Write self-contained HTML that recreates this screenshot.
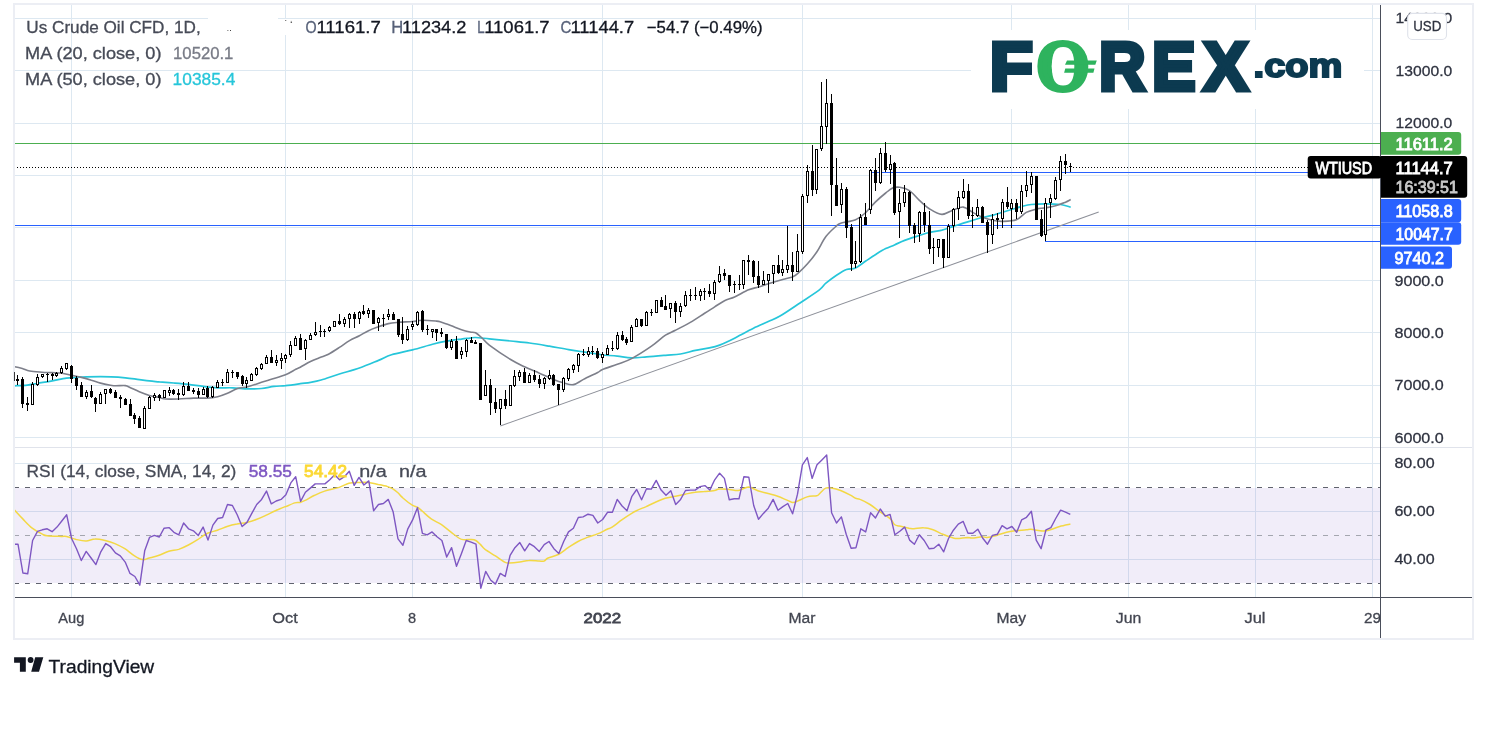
<!DOCTYPE html>
<html lang="en"><head><meta charset="utf-8"><title>Us Crude Oil CFD chart</title>
<style>html,body{margin:0;padding:0;background:#fff}body{width:1489px;height:729px;overflow:hidden}svg{display:block}</style>
</head><body>
<svg width="1489" height="729" viewBox="0 0 1489 729" font-family="'Liberation Sans', sans-serif">
<rect width="1489" height="729" fill="#fff"/>
<defs><clipPath id="cp"><rect x="14" y="5" width="1366" height="592"/></clipPath></defs>
<g shape-rendering="crispEdges">
<path d="M15 18.5H1380M15 70.5H1380M15 123.5H1380M15 175.5H1380M15 227.5H1380M15 280.5H1380M15 332.5H1380M15 385.5H1380M15 437.5H1380M15 463.5H1380M15 511.5H1380M15 559.5H1380M71.5 5V597M285.5 5V597M412.5 5V597M602.5 5V597M802.5 5V597M1011.5 5V597M1128.5 5V597M1255.5 5V597M1372.5 5V597" stroke="#dde8f1" stroke-width="1" fill="none"/>
<rect x="15" y="488" width="1365" height="95" fill="#7e57c2" fill-opacity="0.105"/>
<path d="M15 447.5H1472" stroke="#e0e3eb" stroke-width="1"/>
<path d="M208 10h70v9h22v16h-92z" fill="#fff"/>
<rect x="971" y="30" width="393" height="79" fill="#fff"/>
<path d="M15 487.5H1380M15 583.5H1380" stroke="#60636e" stroke-width="1" stroke-dasharray="5 6" stroke-dashoffset="1" fill="none"/>
<path d="M15 535.5H1380" stroke="#a4a6af" stroke-width="1" stroke-dasharray="5 6" stroke-dashoffset="1" fill="none"/>
</g>
<path d="M230 30h1v1h-1zM227.5 30.1h.8v.8h-.8z" fill="#444"/><path d="M291 20.5l1.2 2.6h-1.6zM285 20.2h1.3v.7h-1.3z" fill="#555"/>
<g clip-path="url(#cp)">
<g shape-rendering="crispEdges">
<path d="M15 143.5H1380" stroke="#4caf50" stroke-width="1"/>
<path d="M15 225.5H1380M872 172.5H1380M1045 241.5H1380" stroke="#2962ff" stroke-width="1" fill="none"/>
<path d="M15 167.5H1380" stroke="#000" stroke-width="1" stroke-dasharray="1 2" stroke-dashoffset="1" fill="none"/>
</g>
<path d="M500.3 426L1098.7 212.1" stroke="#8d9099" stroke-width="1.05" fill="none"/>
<path d="M13.5 385.9C13.7 385.9 12.4 385.9 14.7 385.8C17.0 385.7 23.5 385.6 27.3 385.2C31.1 384.8 33.2 384.0 37.4 383.3C41.5 382.6 47.4 381.8 52.2 380.9C57.0 380.0 62.4 378.7 66.4 378.1C70.4 377.5 73.1 377.6 76.4 377.4C79.7 377.2 80.6 376.9 86.4 376.8C92.2 376.7 104.7 376.6 111.2 376.8C117.7 377.0 120.7 377.3 125.4 377.8C130.1 378.3 135.3 379.1 139.3 379.6C143.3 380.1 146.1 380.5 149.4 380.9C152.8 381.3 155.4 381.5 159.4 381.9C163.4 382.2 168.9 382.6 173.7 383.0C178.5 383.4 183.5 383.8 188.4 384.4C193.3 385.0 198.4 385.8 203.3 386.4C208.2 387.0 212.7 387.6 217.6 387.8C222.5 388.0 227.7 387.6 232.7 387.8C237.7 388.0 243.0 388.8 247.8 388.9C252.6 389.0 257.1 388.9 261.5 388.5C265.9 388.1 269.9 386.9 273.9 386.4C277.9 385.9 281.1 386.1 285.5 385.7C289.9 385.2 296.1 384.3 300.3 383.7C304.5 383.1 307.0 382.9 310.5 382.3C314.0 381.7 316.3 381.4 321.1 380.0C325.9 378.6 333.0 376.0 339.4 374.0C345.8 372.0 352.9 370.3 359.4 368.0C365.9 365.7 373.1 362.6 378.5 360.4C383.9 358.2 385.8 356.6 391.5 354.8C397.2 353.1 405.7 351.6 412.5 349.9C419.3 348.1 426.9 345.8 432.5 344.3C438.1 342.9 441.6 342.1 446.4 341.2C451.2 340.3 457.6 339.6 461.5 339.1C465.4 338.6 467.6 338.4 470.0 338.1C472.4 337.8 472.4 337.4 475.6 337.5C478.8 337.6 483.5 338.3 489.3 338.9C495.1 339.5 503.9 340.3 510.6 341.0C517.3 341.7 523.0 342.1 529.5 343.0C536.0 343.9 542.9 345.1 549.4 346.2C555.9 347.3 562.9 348.7 568.6 349.6C574.3 350.6 578.6 351.2 583.5 351.9C588.4 352.6 594.5 353.5 597.7 354.0C600.9 354.5 599.2 354.6 602.5 355.0C605.8 355.4 612.4 355.6 617.3 356.1C622.1 356.6 626.7 357.7 631.6 357.8C636.5 357.9 641.0 357.3 646.6 356.9C652.2 356.5 659.9 355.8 665.5 355.3C671.1 354.8 675.5 354.8 680.5 354.0C685.5 353.2 690.6 351.4 695.4 350.4C700.2 349.4 705.4 348.8 709.4 347.9C713.4 347.0 716.2 346.3 719.6 345.1C723.0 343.9 726.2 342.4 729.5 340.8C732.8 339.2 735.4 337.7 739.4 335.6C743.4 333.5 748.7 330.5 753.5 328.2C758.3 325.9 763.9 323.6 768.3 321.6C772.7 319.6 774.7 319.2 780.0 316.1C785.3 313.0 793.4 307.4 800.0 303.0C806.6 298.6 815.1 293.2 819.4 289.9C823.7 286.6 823.0 285.6 825.9 283.2C828.8 280.8 833.1 277.6 836.5 275.3C839.9 273.0 843.3 270.7 846.5 269.5C849.7 268.3 852.5 269.3 855.6 267.9C858.8 266.5 862.1 263.5 865.4 261.3C868.7 259.1 871.9 256.8 875.3 254.7C878.7 252.6 882.5 250.2 885.7 248.6C888.9 247.0 891.4 246.3 894.5 244.9C897.6 243.5 900.5 242.0 904.6 240.4C908.8 238.8 915.3 236.8 919.4 235.5C923.5 234.2 925.5 233.4 929.3 232.5C933.0 231.6 938.7 230.8 941.9 230.1C945.1 229.3 945.8 228.9 948.5 228.0C951.2 227.1 954.4 226.0 958.4 224.7C962.4 223.4 968.8 221.5 972.8 220.3C976.8 219.1 979.5 218.1 982.7 217.3C986.0 216.5 988.2 216.5 992.3 215.4C996.4 214.3 1002.5 212.2 1007.4 210.7C1012.2 209.2 1017.4 207.6 1021.4 206.6C1025.4 205.6 1027.2 205.0 1031.2 204.5C1035.2 204.0 1040.7 203.8 1045.6 203.8C1050.5 203.8 1056.3 203.9 1060.5 204.5C1064.7 205.1 1069.0 206.7 1070.7 207.1" stroke="#26c6da" stroke-width="1.7" fill="none" stroke-linejoin="round"/>
<path d="M13.5 366.5C13.7 366.5 13.2 366.4 14.7 366.7C16.2 367.0 19.8 367.8 22.3 368.5C24.8 369.2 26.5 370.4 29.8 371.0C33.1 371.6 38.4 371.9 42.1 372.2C45.8 372.5 48.7 372.4 52.0 372.6C55.3 372.8 58.7 372.8 61.9 373.2C65.1 373.6 68.2 374.6 71.4 375.3C74.7 376.0 78.1 376.6 81.4 377.4C84.7 378.2 88.2 379.2 91.4 380.2C94.6 381.1 97.3 382.3 100.5 383.1C103.7 383.9 108.0 384.8 110.5 385.2C113.0 385.6 112.9 385.7 115.4 385.8C117.9 385.9 122.9 385.3 125.4 385.6C127.9 385.9 128.1 386.7 130.4 387.7C132.7 388.7 136.1 390.4 139.3 391.7C142.5 393.0 146.1 394.4 149.4 395.4C152.8 396.4 156.7 396.9 159.4 397.5C162.1 398.1 162.3 398.8 165.5 399.0C168.7 399.2 173.8 399.1 178.5 399.0C183.2 398.9 188.9 398.2 193.6 398.1C198.3 398.0 202.6 398.3 206.6 398.1C210.6 397.9 214.1 397.5 217.6 396.7C221.1 395.9 224.2 394.7 227.5 393.3C230.8 391.9 234.1 389.6 237.5 388.5C240.9 387.4 243.8 387.7 247.8 386.7C251.8 385.7 257.1 383.7 261.5 382.3C265.9 380.9 269.9 379.8 273.9 378.5C277.9 377.2 281.9 376.3 285.5 374.8C289.1 373.3 293.3 370.6 295.8 369.3C298.3 368.0 297.9 368.5 300.3 367.2C302.8 365.9 307.2 363.1 310.5 361.5C313.8 359.9 317.0 358.7 320.0 357.5C323.0 356.3 325.3 355.9 328.5 354.2C331.7 352.5 335.9 349.7 339.4 347.4C342.9 345.1 346.2 342.6 349.5 340.6C352.8 338.7 356.2 337.4 359.4 335.7C362.6 334.0 365.3 332.2 368.5 330.7C371.7 329.2 375.2 328.0 378.5 326.8C381.8 325.6 385.1 324.4 388.4 323.6C391.7 322.9 394.5 322.7 398.5 322.3C402.5 321.9 408.5 321.9 412.5 321.5C416.5 321.1 418.3 320.3 422.3 320.2C426.3 320.1 433.3 320.8 436.5 321.1C439.7 321.5 439.0 321.5 441.5 322.3C444.0 323.1 448.1 324.6 451.4 325.8C454.7 327.1 458.4 328.8 461.5 329.8C464.6 330.8 467.6 331.5 470.0 332.0C472.4 332.5 473.6 331.8 475.6 332.8C477.6 333.8 479.7 335.9 482.0 338.0C484.3 340.1 484.5 341.5 489.3 345.1C494.1 348.7 504.7 355.9 510.6 359.5C516.5 363.1 519.7 364.5 524.5 366.8C529.3 369.1 534.6 371.1 539.4 373.2C544.2 375.3 549.5 377.8 553.5 379.4C557.5 381.0 560.1 381.9 563.4 382.8C566.7 383.7 570.0 385.2 573.4 384.6C576.8 384.0 579.5 381.4 583.5 379.4C587.5 377.4 594.5 374.1 597.7 372.5C600.9 370.9 599.2 370.9 602.5 369.5C605.8 368.1 612.4 366.1 617.3 364.3C622.1 362.5 625.9 361.6 631.6 358.6C637.3 355.6 645.9 350.1 651.5 346.2C657.1 342.3 661.5 337.8 665.5 335.1C669.5 332.5 671.3 332.4 675.4 330.3C679.5 328.2 685.4 325.2 690.3 322.4C695.2 319.6 700.5 315.9 704.6 313.3C708.7 310.7 711.4 308.9 714.7 306.8C718.0 304.7 721.2 302.4 724.5 300.7C727.8 299.0 730.6 298.7 734.6 296.9C738.6 295.1 744.6 291.4 748.6 289.8C752.6 288.2 755.1 288.0 758.4 287.0C761.7 286.0 764.2 285.0 768.3 283.7C772.3 282.4 778.7 280.5 782.7 279.4C786.7 278.3 790.0 277.8 792.5 276.9C795.0 275.9 795.1 275.9 797.6 273.7C800.1 271.5 804.3 267.4 807.5 263.8C810.7 260.2 813.5 256.8 816.6 252.3C819.7 247.8 822.6 241.0 825.9 236.6C829.2 232.2 833.9 228.2 836.5 225.9C839.1 223.6 838.2 224.0 841.4 223.0C844.6 222.0 851.6 221.4 855.6 219.7C859.6 218.0 862.1 215.7 865.4 212.8C868.7 209.9 871.9 205.4 875.3 202.1C878.7 198.8 882.8 195.3 885.7 193.0C888.6 190.7 890.3 189.0 892.6 188.1C894.9 187.2 896.8 186.9 899.6 187.3C902.4 187.7 906.2 188.4 909.5 190.6C912.8 192.8 916.1 197.4 919.4 200.4C922.7 203.4 925.5 206.4 929.3 208.7C933.0 211.0 937.9 214.2 941.9 214.4C945.9 214.6 949.8 211.1 953.4 209.9C957.0 208.7 960.1 206.7 963.3 207.1C966.5 207.5 969.6 210.7 972.8 212.4C976.0 214.1 979.5 216.0 982.7 217.3C986.0 218.6 989.0 219.6 992.3 220.3C995.6 221.0 998.5 221.5 1002.5 221.4C1006.5 221.3 1012.4 221.3 1016.4 219.8C1020.4 218.3 1022.9 214.2 1026.3 212.4C1029.6 210.6 1033.3 209.9 1036.5 209.1C1039.7 208.3 1042.4 208.4 1045.6 207.8C1048.8 207.2 1052.3 206.7 1055.6 205.8C1058.9 204.9 1063.0 203.2 1065.5 202.2C1068.0 201.2 1069.8 200.0 1070.7 199.6" stroke="#7d7f8a" stroke-width="1.6" fill="none" stroke-linejoin="round"/>
<g shape-rendering="crispEdges">
<path d="M17 375h1v10h-1zM22 377h1v31h-1zM27 397h1v14h-1zM32 382h1v23h-1zM37 374h1v12h-1zM42 374h1v4h-1zM47 373h1v9h-1zM52 373h1v7h-1zM56 372h1v5h-1zM61 366h1v8h-1zM66 363h1v7h-1zM71 365h1v18h-1zM76 376h1v14h-1zM81 382h1v15h-1zM86 390h1v9h-1zM91 385h1v13h-1zM95 397h1v15h-1zM100 392h1v12h-1zM105 389h1v15h-1zM110 388h1v6h-1zM115 390h1v8h-1zM120 395h1v13h-1zM125 398h1v7h-1zM130 399h1v17h-1zM134 413h1v11h-1zM139 416h1v12h-1zM144 406h1v23h-1zM149 396h1v13h-1zM154 393h1v8h-1zM159 394h1v7h-1zM164 390h1v8h-1zM169 387h1v9h-1zM173 389h1v6h-1zM178 389h1v11h-1zM183 382h1v14h-1zM188 382h1v9h-1zM193 388h1v6h-1zM198 388h1v10h-1zM203 387h1v8h-1zM207 386h1v12h-1zM212 386h1v12h-1zM217 380h1v8h-1zM222 379h1v7h-1zM227 369h1v14h-1zM232 370h1v8h-1zM237 372h1v7h-1zM242 375h1v11h-1zM246 377h1v11h-1zM251 373h1v8h-1zM256 367h1v9h-1zM261 363h1v7h-1zM266 355h1v9h-1zM271 350h1v13h-1zM276 355h1v11h-1zM281 353h1v16h-1zM285 354h1v9h-1zM290 341h1v16h-1zM295 336h1v10h-1zM300 334h1v16h-1zM305 339h1v21h-1zM310 333h1v7h-1zM315 322h1v14h-1zM320 325h1v12h-1zM324 329h1v8h-1zM329 326h1v6h-1zM334 321h1v6h-1zM339 314h1v11h-1zM344 317h1v10h-1zM349 313h1v15h-1zM354 312h1v16h-1zM359 311h1v13h-1zM363 305h1v10h-1zM368 308h1v10h-1zM373 310h1v14h-1zM378 317h1v14h-1zM383 314h1v13h-1zM388 309h1v11h-1zM393 312h1v8h-1zM398 319h1v18h-1zM402 317h1v27h-1zM407 326h1v15h-1zM412 321h1v9h-1zM417 311h1v15h-1zM422 310h1v22h-1zM427 325h1v10h-1zM432 329h1v9h-1zM436 329h1v12h-1zM441 328h1v9h-1zM446 334h1v15h-1zM451 339h1v11h-1zM456 336h1v23h-1zM461 347h1v12h-1zM466 339h1v18h-1zM471 337h1v6h-1zM475 340h1v4h-1zM480 343h1v57h-1zM485 370h1v26h-1zM490 379h1v36h-1zM495 388h1v25h-1zM500 399h1v26h-1zM505 390h1v19h-1zM510 385h1v21h-1zM514 370h1v17h-1zM519 370h1v11h-1zM524 368h1v15h-1zM529 373h1v10h-1zM534 370h1v12h-1zM539 375h1v13h-1zM544 377h1v12h-1zM549 370h1v10h-1zM553 374h1v12h-1zM558 384h1v21h-1zM563 377h1v15h-1zM568 368h1v13h-1zM573 364h1v9h-1zM578 353h1v19h-1zM583 349h1v7h-1zM588 347h1v10h-1zM592 346h1v9h-1zM597 348h1v11h-1zM602 352h1v11h-1zM607 345h1v10h-1zM612 341h1v10h-1zM617 332h1v18h-1zM622 331h1v10h-1zM626 337h1v8h-1zM631 325h1v17h-1zM636 318h1v9h-1zM641 319h1v8h-1zM646 311h1v15h-1zM651 309h1v7h-1zM656 300h1v13h-1zM661 297h1v10h-1zM665 295h1v15h-1zM670 303h1v15h-1zM675 301h1v22h-1zM680 303h1v14h-1zM685 291h1v16h-1zM690 289h1v12h-1zM695 287h1v13h-1zM700 289h1v12h-1zM704 288h1v12h-1zM709 284h1v13h-1zM714 280h1v20h-1zM719 266h1v17h-1zM724 269h1v11h-1zM729 275h1v17h-1zM734 281h1v12h-1zM739 275h1v15h-1zM743 260h1v29h-1zM748 255h1v20h-1zM753 260h1v23h-1zM758 261h1v27h-1zM763 271h1v14h-1zM768 274h1v19h-1zM773 265h1v19h-1zM778 255h1v19h-1zM782 260h1v16h-1zM787 226h1v47h-1zM792 252h1v29h-1zM797 234h1v38h-1zM802 194h1v60h-1zM807 165h1v38h-1zM812 145h1v51h-1zM816 149h1v45h-1zM821 82h1v69h-1zM826 79h1v65h-1zM831 94h1v122h-1zM836 158h1v48h-1zM841 183h1v30h-1zM846 187h1v51h-1zM851 224h1v47h-1zM855 241h1v27h-1zM860 214h1v49h-1zM865 203h1v22h-1zM870 169h1v45h-1zM875 158h1v33h-1zM880 148h1v36h-1zM885 142h1v30h-1zM890 155h1v29h-1zM894 162h1v53h-1zM899 189h1v49h-1zM904 185h1v22h-1zM909 191h1v42h-1zM914 223h1v20h-1zM919 211h1v31h-1zM924 203h1v29h-1zM929 211h1v43h-1zM933 238h1v26h-1zM938 239h1v18h-1zM943 239h1v29h-1zM948 224h1v34h-1zM953 208h1v24h-1zM958 191h1v29h-1zM963 179h1v20h-1zM968 184h1v35h-1zM972 207h1v21h-1zM977 199h1v18h-1zM982 206h1v17h-1zM987 220h1v33h-1zM992 214h1v30h-1zM997 213h1v16h-1zM1002 199h1v29h-1zM1007 187h1v22h-1zM1011 199h1v29h-1zM1016 199h1v20h-1zM1021 185h1v29h-1zM1026 171h1v26h-1zM1031 172h1v21h-1zM1036 176h1v44h-1zM1041 210h1v27h-1zM1045 198h1v43h-1zM1050 194h1v24h-1zM1055 177h1v23h-1zM1060 156h1v35h-1zM1065 154h1v20h-1zM1070 163h1v9h-1z" fill="#000"/>
<path d="M16 379h3v2h-3zM21 379h3v25h-3zM26 403h3v2h-3zM31 384h3v21h-3zM36 377h3v8h-3zM41 374h3v3h-3zM46 374h3v1h-3zM51 374h3v2h-3zM55 373h3v3h-3zM60 368h3v5h-3zM65 363h3v6h-3zM70 366h3v13h-3zM75 378h3v8h-3zM80 385h3v12h-3zM85 392h3v5h-3zM90 391h3v6h-3zM94 398h3v6h-3zM99 394h3v10h-3zM104 389h3v5h-3zM109 389h3v4h-3zM114 392h3v6h-3zM119 397h3v2h-3zM124 399h3v6h-3zM129 404h3v12h-3zM133 415h3v4h-3zM138 418h3v10h-3zM143 408h3v21h-3zM148 397h3v12h-3zM153 395h3v3h-3zM158 395h3v3h-3zM163 390h3v8h-3zM168 390h3v3h-3zM172 390h3v4h-3zM177 393h3v2h-3zM182 386h3v9h-3zM187 386h3v5h-3zM192 390h3v2h-3zM197 391h3v4h-3zM202 389h3v6h-3zM206 388h3v9h-3zM211 387h3v10h-3zM216 382h3v6h-3zM221 382h3v1h-3zM226 372h3v11h-3zM231 372h3v1h-3zM236 372h3v5h-3zM241 376h3v8h-3zM245 380h3v4h-3zM250 374h3v7h-3zM255 368h3v7h-3zM260 364h3v5h-3zM265 357h3v7h-3zM270 357h3v6h-3zM275 360h3v3h-3zM280 358h3v3h-3zM284 355h3v4h-3zM289 345h3v10h-3zM294 338h3v8h-3zM299 338h3v12h-3zM304 340h3v9h-3zM309 335h3v5h-3zM314 332h3v3h-3zM319 331h3v1h-3zM323 331h3v1h-3zM328 327h3v4h-3zM333 321h3v6h-3zM338 321h3v3h-3zM343 319h3v5h-3zM348 314h3v5h-3zM353 314h3v5h-3zM358 312h3v7h-3zM362 311h3v3h-3zM367 310h3v4h-3zM372 310h3v14h-3zM377 318h3v5h-3zM382 318h3v1h-3zM387 314h3v3h-3zM392 314h3v6h-3zM397 319h3v16h-3zM401 334h3v6h-3zM406 329h3v11h-3zM411 324h3v3h-3zM416 312h3v13h-3zM421 311h3v19h-3zM426 329h3v1h-3zM431 329h3v3h-3zM435 329h3v4h-3zM440 332h3v2h-3zM445 334h3v14h-3zM450 341h3v7h-3zM455 341h3v18h-3zM460 351h3v4h-3zM465 340h3v12h-3zM470 340h3v3h-3zM474 342h3v2h-3zM479 343h3v57h-3zM484 385h3v11h-3zM489 385h3v18h-3zM494 402h3v7h-3zM499 399h3v10h-3zM504 399h3v7h-3zM509 385h3v21h-3zM513 376h3v10h-3zM518 372h3v5h-3zM523 372h3v11h-3zM528 375h3v8h-3zM533 375h3v5h-3zM538 379h3v5h-3zM543 378h3v6h-3zM548 375h3v4h-3zM552 375h3v10h-3zM557 384h3v6h-3zM562 378h3v12h-3zM567 369h3v10h-3zM572 365h3v5h-3zM577 354h3v12h-3zM582 354h3v1h-3zM587 351h3v4h-3zM591 351h3v1h-3zM596 351h3v7h-3zM601 354h3v4h-3zM606 348h3v7h-3zM611 348h3v1h-3zM616 335h3v14h-3zM621 335h3v5h-3zM625 339h3v4h-3zM630 327h3v15h-3zM635 319h3v8h-3zM640 319h3v7h-3zM645 312h3v14h-3zM650 312h3v1h-3zM655 300h3v13h-3zM660 300h3v7h-3zM664 306h3v4h-3zM669 303h3v6h-3zM674 303h3v9h-3zM679 306h3v6h-3zM684 295h3v11h-3zM689 295h3v1h-3zM694 295h3v1h-3zM699 291h3v5h-3zM703 291h3v1h-3zM708 291h3v3h-3zM713 282h3v12h-3zM718 274h3v8h-3zM723 273h3v3h-3zM728 275h3v11h-3zM733 284h3v1h-3zM738 284h3v1h-3zM742 260h3v25h-3zM747 260h3v2h-3zM752 261h3v16h-3zM757 276h3v9h-3zM762 280h3v5h-3zM767 274h3v7h-3zM772 265h3v9h-3zM777 265h3v8h-3zM781 269h3v4h-3zM786 265h3v5h-3zM791 265h3v7h-3zM796 251h3v21h-3zM801 196h3v56h-3zM806 171h3v25h-3zM811 171h3v19h-3zM815 149h3v41h-3zM820 126h3v23h-3zM825 103h3v24h-3zM830 103h3v82h-3zM835 185h3v21h-3zM840 189h3v16h-3zM845 189h3v39h-3zM850 227h3v37h-3zM854 261h3v3h-3zM859 217h3v45h-3zM864 217h3v8h-3zM869 170h3v40h-3zM874 170h3v13h-3zM879 153h3v30h-3zM884 153h3v17h-3zM889 164h3v6h-3zM893 163h3v50h-3zM898 203h3v9h-3zM903 192h3v11h-3zM908 192h3v34h-3zM913 225h3v9h-3zM918 212h3v22h-3zM923 212h3v13h-3zM928 225h3v24h-3zM932 247h3v1h-3zM937 239h3v9h-3zM942 239h3v19h-3zM947 226h3v32h-3zM952 209h3v17h-3zM957 197h3v12h-3zM962 191h3v7h-3zM967 191h3v25h-3zM971 215h3v1h-3zM976 207h3v9h-3zM981 207h3v16h-3zM986 222h3v13h-3zM991 219h3v16h-3zM996 218h3v2h-3zM1001 202h3v17h-3zM1006 202h3v5h-3zM1010 203h3v6h-3zM1015 203h3v9h-3zM1020 191h3v21h-3zM1025 185h3v6h-3zM1030 176h3v9h-3zM1035 176h3v44h-3zM1040 219h3v17h-3zM1044 203h3v32h-3zM1049 198h3v5h-3zM1054 180h3v19h-3zM1059 161h3v19h-3zM1064 161h3v4h-3zM1069 166h3v1h-3z" fill="#000"/>
<path d="M32 385h1v19h-1zM37 378h1v6h-1zM42 375h1v1h-1zM56 374h1v1h-1zM61 369h1v3h-1zM66 364h1v4h-1zM86 393h1v3h-1zM100 395h1v8h-1zM105 390h1v3h-1zM144 409h1v19h-1zM149 398h1v10h-1zM154 396h1v1h-1zM164 391h1v6h-1zM169 391h1v1h-1zM183 387h1v7h-1zM203 390h1v4h-1zM212 388h1v8h-1zM217 383h1v4h-1zM227 373h1v9h-1zM246 381h1v2h-1zM251 375h1v5h-1zM256 369h1v5h-1zM261 365h1v3h-1zM266 358h1v5h-1zM276 361h1v1h-1zM281 359h1v1h-1zM285 356h1v2h-1zM290 346h1v8h-1zM295 339h1v6h-1zM305 341h1v7h-1zM310 336h1v3h-1zM315 333h1v1h-1zM329 328h1v2h-1zM334 322h1v4h-1zM344 320h1v3h-1zM349 315h1v3h-1zM359 313h1v5h-1zM368 311h1v2h-1zM378 319h1v3h-1zM388 315h1v1h-1zM407 330h1v9h-1zM412 325h1v1h-1zM417 313h1v11h-1zM432 330h1v1h-1zM451 342h1v5h-1zM461 352h1v2h-1zM466 341h1v10h-1zM485 386h1v9h-1zM500 400h1v8h-1zM510 386h1v19h-1zM514 377h1v8h-1zM519 373h1v3h-1zM529 376h1v6h-1zM544 379h1v4h-1zM549 376h1v2h-1zM563 379h1v10h-1zM568 370h1v8h-1zM573 366h1v3h-1zM578 355h1v10h-1zM588 352h1v2h-1zM602 355h1v2h-1zM607 349h1v5h-1zM617 336h1v12h-1zM631 328h1v13h-1zM636 320h1v6h-1zM646 313h1v12h-1zM656 301h1v11h-1zM670 304h1v4h-1zM680 307h1v4h-1zM685 296h1v9h-1zM700 292h1v3h-1zM714 283h1v10h-1zM719 275h1v6h-1zM743 261h1v23h-1zM763 281h1v3h-1zM768 275h1v5h-1zM773 266h1v7h-1zM782 270h1v2h-1zM787 266h1v3h-1zM797 252h1v19h-1zM802 197h1v54h-1zM807 172h1v23h-1zM816 150h1v39h-1zM821 127h1v21h-1zM826 104h1v22h-1zM841 190h1v14h-1zM855 262h1v1h-1zM860 218h1v43h-1zM870 171h1v38h-1zM880 154h1v28h-1zM890 165h1v4h-1zM899 204h1v7h-1zM904 193h1v9h-1zM919 213h1v20h-1zM938 240h1v7h-1zM948 227h1v30h-1zM953 210h1v15h-1zM958 198h1v10h-1zM963 192h1v5h-1zM977 208h1v7h-1zM992 220h1v14h-1zM1002 203h1v15h-1zM1011 204h1v4h-1zM1021 192h1v19h-1zM1026 186h1v4h-1zM1031 177h1v7h-1zM1045 204h1v30h-1zM1050 199h1v3h-1zM1055 181h1v17h-1zM1060 162h1v17h-1z" fill="#fff"/>
</g>
<path d="M14.5 510.1C15.9 511.5 19.8 515.9 22.8 518.9C25.7 521.9 29.0 525.7 32.2 528.2C35.4 530.7 39.4 532.7 41.9 533.9C44.4 535.2 43.8 535.4 47.0 535.8C50.3 536.2 58.2 536.3 61.4 536.4C64.7 536.5 64.1 535.9 66.6 536.4C69.0 536.9 73.0 538.7 76.2 539.5C79.5 540.2 83.0 541.0 86.1 540.9C89.2 540.9 91.8 539.1 95.0 539.1C98.2 539.0 101.9 539.8 105.2 540.5C108.6 541.3 111.7 542.2 114.9 543.6C118.2 545.0 121.5 546.7 124.8 548.7C128.0 550.8 131.5 554.1 134.5 555.9C137.4 557.8 140.2 559.3 142.7 559.6C145.2 560.0 146.5 558.7 149.3 558.0C152.0 557.3 155.9 556.5 159.1 555.3C162.4 554.2 165.6 552.2 168.8 551.2C172.1 550.2 175.4 550.4 178.7 549.4C181.9 548.3 185.3 546.6 188.4 545.0C191.4 543.5 194.0 541.9 197.2 539.9C200.4 537.9 204.1 534.9 207.5 533.3C210.9 531.7 214.1 531.4 217.4 530.2C220.6 529.1 223.8 527.6 227.0 526.5C230.3 525.5 233.7 524.7 236.9 524.1C240.2 523.4 243.4 523.2 246.6 522.4C249.8 521.7 253.1 520.7 256.2 519.5C259.4 518.4 262.5 516.9 265.7 515.4C268.9 513.9 272.1 512.2 275.4 510.7C278.6 509.2 283.5 507.3 285.3 506.6C287.0 505.9 284.2 507.2 285.8 506.6C287.4 506.0 292.4 503.6 294.8 502.9C297.2 502.2 298.4 502.9 300.2 502.5C301.9 502.0 302.7 501.6 305.1 500.4C307.5 499.2 311.3 496.8 314.6 495.3C317.8 493.7 320.5 492.4 324.6 491.1C328.8 489.8 335.2 488.7 339.2 487.4C343.3 486.1 345.7 484.1 348.9 483.3C352.2 482.5 355.5 482.6 358.8 482.5C362.0 482.4 365.2 482.2 368.5 482.5C371.7 482.8 375.1 483.9 378.3 484.6C381.5 485.2 385.2 485.9 387.6 486.6C390.0 487.3 390.8 487.6 392.5 488.7C394.2 489.7 396.2 491.3 397.9 492.8C399.6 494.3 400.2 495.7 402.6 497.7C405.0 499.8 409.8 503.6 412.3 505.1C414.7 506.7 415.7 506.2 417.4 507.2C419.1 508.2 420.1 509.3 422.4 511.3C424.7 513.3 428.0 516.7 431.2 518.9C434.4 521.1 438.2 522.5 441.5 524.7C444.7 526.8 447.5 529.5 450.7 531.9C454.0 534.3 457.7 537.8 461.0 539.1C464.4 540.3 468.4 539.2 470.9 539.5C473.4 539.7 474.2 539.7 475.8 540.5C477.5 541.4 479.0 543.2 480.6 544.6C482.1 546.1 482.6 547.5 485.1 549.4C487.6 551.2 492.1 553.8 495.4 555.9C498.6 558.1 502.3 560.9 504.6 562.1C507.0 563.3 506.9 563.1 509.4 563.1C511.9 563.1 516.4 562.6 519.7 562.1C522.9 561.7 525.7 560.6 528.9 560.5C532.2 560.3 536.7 561.0 539.2 561.1C541.7 561.2 542.5 561.6 543.9 561.1C545.4 560.6 545.7 559.1 548.1 558.0C550.4 556.9 554.9 556.2 558.2 554.5C561.6 552.8 564.8 549.9 568.1 547.7C571.4 545.6 574.8 543.3 578.0 541.5C581.2 539.8 584.2 538.7 587.4 537.4C590.7 536.2 594.2 535.3 597.5 533.9C600.8 532.6 604.8 530.3 607.2 529.2C609.6 528.1 609.7 528.7 612.1 527.1C614.6 525.6 618.5 522.2 621.8 519.9C625.1 517.6 629.2 514.9 631.7 513.4C634.1 511.8 634.0 511.8 636.4 510.7C638.8 509.6 642.8 508.0 646.1 506.6C649.3 505.1 652.8 503.4 655.9 502.0C659.1 500.7 661.9 499.3 665.2 498.3C668.5 497.4 672.2 497.0 675.5 496.3C678.8 495.6 681.9 494.9 685.2 494.2C688.4 493.5 691.8 492.6 695.0 492.2C698.2 491.7 701.0 491.8 704.3 491.6C707.5 491.3 712.1 490.9 714.6 490.5C717.0 490.1 716.6 489.3 719.1 489.1C721.6 488.9 726.2 489.3 729.4 489.5C732.6 489.7 735.2 490.9 738.4 490.5C741.6 490.1 745.3 487.0 748.5 487.0C751.7 487.1 754.5 489.6 757.8 490.7C761.0 491.8 764.7 492.7 768.1 493.6C771.4 494.5 774.5 495.2 777.7 496.3C781.0 497.4 785.1 499.4 787.6 500.4C790.1 501.4 791.2 502.3 792.7 502.5C794.3 502.6 794.5 502.4 796.9 501.4C799.3 500.5 803.8 497.9 807.1 496.9C810.5 495.9 814.7 496.3 816.8 495.7C819.0 495.1 818.5 494.5 820.0 493.2C821.5 491.9 823.7 488.9 825.6 488.1C827.4 487.2 828.8 487.6 831.3 488.1C833.8 488.5 837.3 489.3 840.6 490.5C843.8 491.7 848.4 494.0 850.9 495.3C853.4 496.6 854.0 497.7 855.6 498.3C857.1 499.0 857.7 498.3 860.1 499.4C862.5 500.4 866.7 502.5 870.0 504.5C873.2 506.6 876.3 509.3 879.7 511.7C883.1 514.1 887.9 516.8 890.4 518.9C892.8 521.0 893.0 523.3 894.5 524.5C895.9 525.7 896.8 525.5 899.2 526.1C901.6 526.7 906.6 527.7 909.1 528.2C911.5 528.6 911.6 528.9 914.0 528.8C916.4 528.7 920.3 527.6 923.5 527.8C926.7 527.9 929.9 528.7 933.1 529.8C936.4 530.9 939.6 533.0 942.8 534.3C946.1 535.7 950.3 537.2 952.7 537.8C955.1 538.5 954.9 538.5 957.4 538.5C959.9 538.4 965.2 537.5 967.7 537.4C970.2 537.4 969.8 538.2 972.2 538.0C974.6 537.9 979.6 536.9 982.1 536.8C984.6 536.7 984.8 537.7 987.2 537.4C989.6 537.2 993.3 536.2 996.5 535.4C999.7 534.5 1003.3 533.1 1006.6 532.3C1009.8 531.5 1012.8 531.1 1016.1 530.6C1019.3 530.2 1023.9 530.1 1026.3 529.8C1028.8 529.6 1028.6 529.0 1030.9 529.2C1033.2 529.4 1037.7 530.6 1040.1 530.8C1042.6 531.1 1044.0 531.0 1045.7 530.8C1047.4 530.7 1048.1 530.5 1050.4 529.8C1052.7 529.1 1056.3 527.5 1059.7 526.5C1063.0 525.6 1068.6 524.5 1070.4 524.1" stroke="#f3d845" stroke-width="1.5" fill="none" stroke-linejoin="round"/>
<path d="M13.5 544.2L18.0 544.2L22.9 573.0L27.7 573.8L32.6 540.5L37.5 531.3L42.3 529.8L47.2 528.8L52.1 531.7L57.0 527.1L61.8 521.0L66.7 514.8L71.6 538.5L76.5 548.7L81.3 560.5L86.2 551.4L91.1 558.0L95.9 564.6L100.8 551.8L105.7 543.6L110.6 546.7L115.4 552.9L120.3 555.9L125.2 562.1L130.0 573.4L134.9 576.5L139.8 585.2L144.7 550.8L149.5 537.4L154.4 535.4L159.3 537.0L164.1 528.2L169.0 527.6L173.9 532.3L178.8 534.8L183.6 523.0L188.5 528.8L193.4 530.8L198.3 535.4L203.1 527.1L208.0 540.1L212.9 525.1L217.7 518.5L222.6 517.5L227.5 504.5L232.4 505.5L237.2 514.8L242.1 526.5L247.0 522.4L251.8 513.4L256.7 504.5L261.6 499.4L266.5 491.1L271.3 503.9L276.2 501.0L281.1 499.4L285.9 494.8L290.8 482.9L295.7 476.7L300.6 501.4L305.4 492.2L310.3 488.1L315.2 483.9L320.1 483.9L324.9 483.9L329.8 479.8L334.7 474.7L339.5 479.8L344.4 476.7L349.3 471.2L354.2 485.4L359.0 477.4L363.9 485.0L368.8 480.9L373.6 510.7L378.5 504.5L383.4 503.5L388.3 499.4L393.1 511.7L398.0 538.9L402.9 545.2L407.7 529.2L412.6 519.9L417.5 507.6L422.4 533.3L427.2 534.8L432.1 531.9L437.0 536.8L441.9 540.5L446.7 557.0L451.6 547.7L456.5 566.2L461.3 553.9L466.2 540.5L471.1 542.2L476.0 544.2L480.8 588.2L485.7 571.4L490.6 580.0L495.4 584.1L500.3 573.4L505.2 576.5L510.1 555.3L514.9 547.7L519.8 542.6L524.7 550.8L529.5 543.6L534.4 546.7L539.3 551.4L544.2 544.6L549.0 541.5L553.9 548.7L558.8 553.5L563.7 541.5L568.5 531.9L573.4 528.2L578.3 517.5L583.1 516.9L588.0 514.2L592.9 515.4L597.8 523.0L602.6 519.5L607.5 512.3L612.4 512.3L617.2 499.4L622.1 506.0L627.0 510.7L631.9 496.3L636.7 489.5L641.6 499.8L646.5 488.7L651.3 489.1L656.2 480.4L661.1 490.1L666.0 495.3L670.8 490.7L675.7 504.5L680.6 499.4L685.5 490.5L690.3 490.1L695.2 490.1L700.1 486.6L704.9 485.6L709.8 490.1L714.7 479.8L719.6 473.2L724.4 478.4L729.3 499.8L734.2 498.8L739.0 498.8L743.9 476.7L748.8 477.2L753.7 505.5L758.5 519.3L763.4 513.4L768.3 508.2L773.1 499.4L778.0 510.3L782.9 506.6L787.8 503.5L792.6 513.8L797.5 494.2L802.4 464.8L807.3 457.6L812.1 478.4L817.0 464.8L821.9 459.9L826.7 455.1L831.6 512.7L836.5 523.0L841.4 516.9L846.2 534.3L851.1 548.3L856.0 547.7L860.8 528.8L865.7 531.9L870.6 512.7L875.5 517.9L880.3 509.0L885.2 516.2L890.1 514.4L894.9 534.8L899.8 531.3L904.7 527.1L909.6 540.1L914.4 544.2L919.3 534.8L924.2 540.5L929.1 548.7L933.9 548.3L938.8 544.2L943.7 551.8L948.5 538.5L953.4 530.2L958.3 524.1L963.2 521.4L968.0 533.3L972.9 533.3L977.8 529.2L982.6 538.0L987.5 544.2L992.4 535.4L997.3 534.3L1002.1 525.7L1007.0 528.8L1011.9 526.5L1016.7 532.3L1021.6 519.9L1026.5 517.3L1031.4 511.3L1036.2 540.1L1041.1 548.7L1046.0 529.8L1050.9 527.6L1055.7 518.5L1060.6 510.1L1065.5 512.1L1070.3 514.4" stroke="#7e57c2" stroke-width="1.4" fill="none" stroke-linejoin="round"/>
</g>
<path d="M15 597.5H1472M1380.5 5V638" stroke="#4a4e5a" stroke-width="1" fill="none" shape-rendering="crispEdges"/>
<rect x="14" y="4" width="1459" height="635" fill="none" stroke="#eceef4" stroke-width="2" shape-rendering="crispEdges"/>
<path d="M14 372h1v9h-1z" fill="#3a3a3a" shape-rendering="crispEdges"/>
<text x="1395.6" y="23.2" font-size="15.3" fill="#2f3340" font-weight="normal" text-anchor="start" textLength="56.6" lengthAdjust="spacingAndGlyphs" stroke="#2f3340" stroke-width="0.3">14000.0</text>
<text x="1395.6" y="75.60000000000001" font-size="15.3" fill="#2f3340" font-weight="normal" text-anchor="start" textLength="56.6" lengthAdjust="spacingAndGlyphs" stroke="#2f3340" stroke-width="0.3">13000.0</text>
<text x="1395.6" y="128.1" font-size="15.3" fill="#2f3340" font-weight="normal" text-anchor="start" textLength="56.6" lengthAdjust="spacingAndGlyphs" stroke="#2f3340" stroke-width="0.3">12000.0</text>
<text x="1394.5" y="285.7" font-size="15.3" fill="#2f3340" font-weight="normal" text-anchor="start" textLength="49.2" lengthAdjust="spacingAndGlyphs" stroke="#2f3340" stroke-width="0.3">9000.0</text>
<text x="1394.5" y="338.0" font-size="15.3" fill="#2f3340" font-weight="normal" text-anchor="start" textLength="49.2" lengthAdjust="spacingAndGlyphs" stroke="#2f3340" stroke-width="0.3">8000.0</text>
<text x="1394.5" y="390.4" font-size="15.3" fill="#2f3340" font-weight="normal" text-anchor="start" textLength="49.2" lengthAdjust="spacingAndGlyphs" stroke="#2f3340" stroke-width="0.3">7000.0</text>
<text x="1394.5" y="442.8" font-size="15.3" fill="#2f3340" font-weight="normal" text-anchor="start" textLength="49.2" lengthAdjust="spacingAndGlyphs" stroke="#2f3340" stroke-width="0.3">6000.0</text>
<text x="1394.4" y="468.2" font-size="15.3" fill="#2f3340" font-weight="normal" text-anchor="start" textLength="40.2" lengthAdjust="spacingAndGlyphs" stroke="#2f3340" stroke-width="0.3">80.00</text>
<text x="1394.4" y="515.9" font-size="15.3" fill="#2f3340" font-weight="normal" text-anchor="start" textLength="40.2" lengthAdjust="spacingAndGlyphs" stroke="#2f3340" stroke-width="0.3">60.00</text>
<text x="1394.4" y="563.8" font-size="15.3" fill="#2f3340" font-weight="normal" text-anchor="start" textLength="40.2" lengthAdjust="spacingAndGlyphs" stroke="#2f3340" stroke-width="0.3">40.00</text>
<rect x="1407.7" y="13.4" width="38.8" height="26.1" rx="4.5" fill="#fff" stroke="#dfe2ea" stroke-width="1.1"/>
<text x="1413.2" y="30.8" font-size="14.4" fill="#2f3340" font-weight="normal" text-anchor="start" textLength="28.1" lengthAdjust="spacingAndGlyphs" stroke="#2f3340" stroke-width="0.3">USD</text>
<path d="M1381 132h77.2a3 3 0 0 1 3 3v16.7a3 3 0 0 1 -3 3h-77.2z" fill="#4caf50"/>
<text x="1395.5" y="149.5" font-size="15.6" fill="#fff" font-weight="normal" text-anchor="start" textLength="57.3" lengthAdjust="spacingAndGlyphs" stroke="#fff" stroke-width="0.8">11611.2</text>
<rect x="1307.7" y="156" width="74" height="22.6" rx="3" fill="#000"/>
<path d="M1381 156h83.2a3 3 0 0 1 3 3v35.7a3 3 0 0 1 -3 3h-83.2z" fill="#000"/>
<text x="1315.5" y="173.5" font-size="15.6" fill="#fff" font-weight="normal" text-anchor="start" textLength="56.5" lengthAdjust="spacingAndGlyphs" stroke="#fff" stroke-width="0.8">WTIUSD</text>
<text x="1395.5" y="173.5" font-size="15.6" fill="#fff" font-weight="normal" text-anchor="start" textLength="57.3" lengthAdjust="spacingAndGlyphs" stroke="#fff" stroke-width="0.8">11144.7</text>
<text x="1395.5" y="192.5" font-size="15.6" fill="#c9c9c9" font-weight="normal" text-anchor="start" textLength="62.3" lengthAdjust="spacingAndGlyphs" stroke="#c9c9c9" stroke-width="0.8">16:39:51</text>
<path d="M1381 199h77.2a3 3 0 0 1 3 3v17.3a3 3 0 0 1 -3 3h-77.2z" fill="#2962ff"/>
<text x="1395.5" y="216.8" font-size="15.6" fill="#fff" font-weight="normal" text-anchor="start" textLength="57.3" lengthAdjust="spacingAndGlyphs" stroke="#fff" stroke-width="0.8">11058.8</text>
<path d="M1381 222.3h77.2a3 3 0 0 1 3 3v16.4a3 3 0 0 1 -3 3h-77.2z" fill="#2962ff"/>
<text x="1395.5" y="239.8" font-size="15.6" fill="#fff" font-weight="normal" text-anchor="start" textLength="57.3" lengthAdjust="spacingAndGlyphs" stroke="#fff" stroke-width="0.8">10047.7</text>
<path d="M1381 246.4h68a3 3 0 0 1 3 3v16.4a3 3 0 0 1 -3 3h-68z" fill="#2962ff"/>
<text x="1394.5" y="264" font-size="15.6" fill="#fff" font-weight="normal" text-anchor="start" textLength="49.6" lengthAdjust="spacingAndGlyphs" stroke="#fff" stroke-width="0.8">9740.2</text>
<text x="71.3" y="622.7" font-size="15.4" fill="#434651" font-weight="normal" text-anchor="middle" textLength="26" lengthAdjust="spacingAndGlyphs" stroke="#434651" stroke-width="0.3">Aug</text>
<text x="285.1" y="622.7" font-size="15.4" fill="#434651" font-weight="normal" text-anchor="middle" textLength="25.5" lengthAdjust="spacingAndGlyphs" stroke="#434651" stroke-width="0.3">Oct</text>
<text x="412" y="622.7" font-size="15.4" fill="#434651" font-weight="normal" text-anchor="middle" textLength="8.1" lengthAdjust="spacingAndGlyphs" stroke="#434651" stroke-width="0.3">8</text>
<text x="802" y="622.7" font-size="15.4" fill="#434651" font-weight="normal" text-anchor="middle" textLength="27" lengthAdjust="spacingAndGlyphs" stroke="#434651" stroke-width="0.3">Mar</text>
<text x="1011.2" y="622.7" font-size="15.4" fill="#434651" font-weight="normal" text-anchor="middle" textLength="29.5" lengthAdjust="spacingAndGlyphs" stroke="#434651" stroke-width="0.3">May</text>
<text x="1128.6" y="622.7" font-size="15.4" fill="#434651" font-weight="normal" text-anchor="middle" textLength="25.5" lengthAdjust="spacingAndGlyphs" stroke="#434651" stroke-width="0.3">Jun</text>
<text x="1255" y="622.7" font-size="15.4" fill="#434651" font-weight="normal" text-anchor="middle" textLength="21" lengthAdjust="spacingAndGlyphs" stroke="#434651" stroke-width="0.3">Jul</text>
<text x="602.3" y="622.7" font-size="15.4" fill="#434651" font-weight="normal" text-anchor="middle" textLength="37.5" lengthAdjust="spacingAndGlyphs" stroke="#434651" stroke-width="0.8">2022</text>
<g clip-path="url(#cp2)"><defs><clipPath id="cp2"><rect x="1300" y="600" width="80.09999999999991" height="38"/></clipPath></defs><text x="1364" y="622.7" font-size="15.4" fill="#434651" font-weight="normal" text-anchor="start" textLength="17" lengthAdjust="spacingAndGlyphs" stroke="#434651" stroke-width="0.3">29</text></g>
<text x="26.3" y="32.6" font-size="16.7" fill="#474b57" font-weight="normal" text-anchor="start" textLength="174.4" lengthAdjust="spacingAndGlyphs" stroke="#474b57" stroke-width="0.3">Us Crude Oil CFD, 1D,</text>
<text x="305.5" y="32.6" font-size="16.7" fill="#566078" font-weight="normal" text-anchor="start" textLength="11.1" lengthAdjust="spacingAndGlyphs" stroke="#566078" stroke-width="0.3">O</text><text x="316.4" y="32.6" font-size="16.7" fill="#131722" font-weight="normal" text-anchor="start" textLength="64.4" lengthAdjust="spacingAndGlyphs" stroke="#131722" stroke-width="0.3">11161.7</text>
<text x="391.3" y="32.6" font-size="16.7" fill="#566078" font-weight="normal" text-anchor="start" textLength="12" lengthAdjust="spacingAndGlyphs" stroke="#566078" stroke-width="0.3">H</text><text x="402" y="32.6" font-size="16.7" fill="#131722" font-weight="normal" text-anchor="start" textLength="64.4" lengthAdjust="spacingAndGlyphs" stroke="#131722" stroke-width="0.3">11234.2</text>
<text x="477.2" y="32.6" font-size="16.7" fill="#566078" font-weight="normal" text-anchor="start" textLength="7.4" lengthAdjust="spacingAndGlyphs" stroke="#566078" stroke-width="0.3">L</text><text x="484.2" y="32.6" font-size="16.7" fill="#131722" font-weight="normal" text-anchor="start" textLength="65.4" lengthAdjust="spacingAndGlyphs" stroke="#131722" stroke-width="0.3">11061.7</text>
<text x="560.4" y="32.6" font-size="16.7" fill="#566078" font-weight="normal" text-anchor="start" textLength="10.9" lengthAdjust="spacingAndGlyphs" stroke="#566078" stroke-width="0.3">C</text><text x="570.5" y="32.6" font-size="16.7" fill="#131722" font-weight="normal" text-anchor="start" textLength="63.7" lengthAdjust="spacingAndGlyphs" stroke="#131722" stroke-width="0.3">11144.7</text>
<text x="646.8" y="32.6" font-size="16.7" fill="#131722" font-weight="normal" text-anchor="start" textLength="115.7" lengthAdjust="spacingAndGlyphs" stroke="#131722" stroke-width="0.3">−54.7 (−0.49%)</text>
<text x="25.1" y="58.8" font-size="16.7" fill="#474b57" font-weight="normal" text-anchor="start" textLength="136.4" lengthAdjust="spacingAndGlyphs" stroke="#474b57" stroke-width="0.3">MA (20, close, 0)</text><text x="173.1" y="58.8" font-size="16.7" fill="#787b86" font-weight="normal" text-anchor="start" textLength="60.3" lengthAdjust="spacingAndGlyphs" stroke="#787b86" stroke-width="0.3">10520.1</text>
<text x="25.1" y="84.9" font-size="16.7" fill="#474b57" font-weight="normal" text-anchor="start" textLength="136.4" lengthAdjust="spacingAndGlyphs" stroke="#474b57" stroke-width="0.3">MA (50, close, 0)</text><text x="172.6" y="84.9" font-size="16.7" fill="#26c6da" font-weight="normal" text-anchor="start" textLength="62.7" lengthAdjust="spacingAndGlyphs" stroke="#26c6da" stroke-width="0.3">10385.4</text>
<text x="26.5" y="477" font-size="16.7" fill="#474b57" font-weight="normal" text-anchor="start" textLength="209.8" lengthAdjust="spacingAndGlyphs" stroke="#474b57" stroke-width="0.3">RSI (14, close, SMA, 14, 2)</text>
<text x="248.7" y="477" font-size="16.7" fill="#7e57c2" font-weight="normal" text-anchor="start" textLength="43.3" lengthAdjust="spacingAndGlyphs" stroke="#7e57c2" stroke-width="0.5">58.55</text>
<text x="304.1" y="477" font-size="16.7" fill="#fbd835" font-weight="normal" text-anchor="start" textLength="43" lengthAdjust="spacingAndGlyphs" stroke="#fbd835" stroke-width="0.9">54.42</text>
<text x="359.2" y="477" font-size="16.7" fill="#474b57" font-weight="normal" text-anchor="start" textLength="27.5" lengthAdjust="spacingAndGlyphs" stroke="#474b57" stroke-width="0.3">n/a</text><text x="399" y="477" font-size="16.7" fill="#474b57" font-weight="normal" text-anchor="start" textLength="27.5" lengthAdjust="spacingAndGlyphs" stroke="#474b57" stroke-width="0.3">n/a</text>
<text transform="translate(989.74 89.6) scale(1.0300 1)" font-weight="bold" font-size="68.6" fill="#0c3a50" stroke="#0c3a50" stroke-width="4.8" stroke-linejoin="miter">F</text>
<text transform="translate(1037.10 90) scale(0.9698 1)" font-weight="bold" font-size="68.6" fill="#2eb35e" stroke="#2eb35e" stroke-width="4.8" stroke-linejoin="miter">O</text>
<path d="M1063.1 46.9C1070.9 46.9 1074.3 52.7 1074.3 66.2C1074.3 79.7 1070.9 85.5 1063.1 85.5C1055.3 85.5 1051.9 79.7 1051.9 66.2C1051.9 52.7 1055.3 46.9 1063.1 46.9Z" fill="#fff"/>
<path d="M1067 60.5H1096.8L1095.3 64.8H1065ZM1065.3 68.4H1094.5L1093.4 72.7H1064.1Z" fill="#2eb35e"/>
<text transform="translate(1099.02 89.6) scale(0.9400 1)" font-weight="bold" font-size="68.6" fill="#0c3a50" stroke="#0c3a50" stroke-width="4.8" stroke-linejoin="miter">R</text>
<text transform="translate(1151.99 89.6) scale(0.9535 1)" font-weight="bold" font-size="68.6" fill="#0c3a50" stroke="#0c3a50" stroke-width="4.8" stroke-linejoin="miter">E</text>
<text transform="translate(1203.24 89.6) scale(0.9808 1)" font-weight="bold" font-size="68.6" fill="#0c3a50" stroke="#0c3a50" stroke-width="4.8" stroke-linejoin="miter">X</text>
<text transform="translate(1253.56 76.9) scale(1.1368 1)" font-weight="bold" font-size="33.5" fill="#0c3a50" stroke="#0c3a50" stroke-width="2.0" stroke-linejoin="miter">.com</text>
<path d="M14.1 657.2h11.7v14.6h-5.9v-9h-5.8zM35.2 657.2h8.1l-4.3 14.6h-7.8z" fill="#131722"/><circle cx="30.6" cy="660" r="2.9" fill="#131722"/>
<text x="48.6" y="672.6" font-size="18.6" fill="#131722" font-weight="normal" text-anchor="start" textLength="105.6" lengthAdjust="spacingAndGlyphs" stroke="#131722" stroke-width="0.3">TradingView</text>
</svg>
</body></html>
